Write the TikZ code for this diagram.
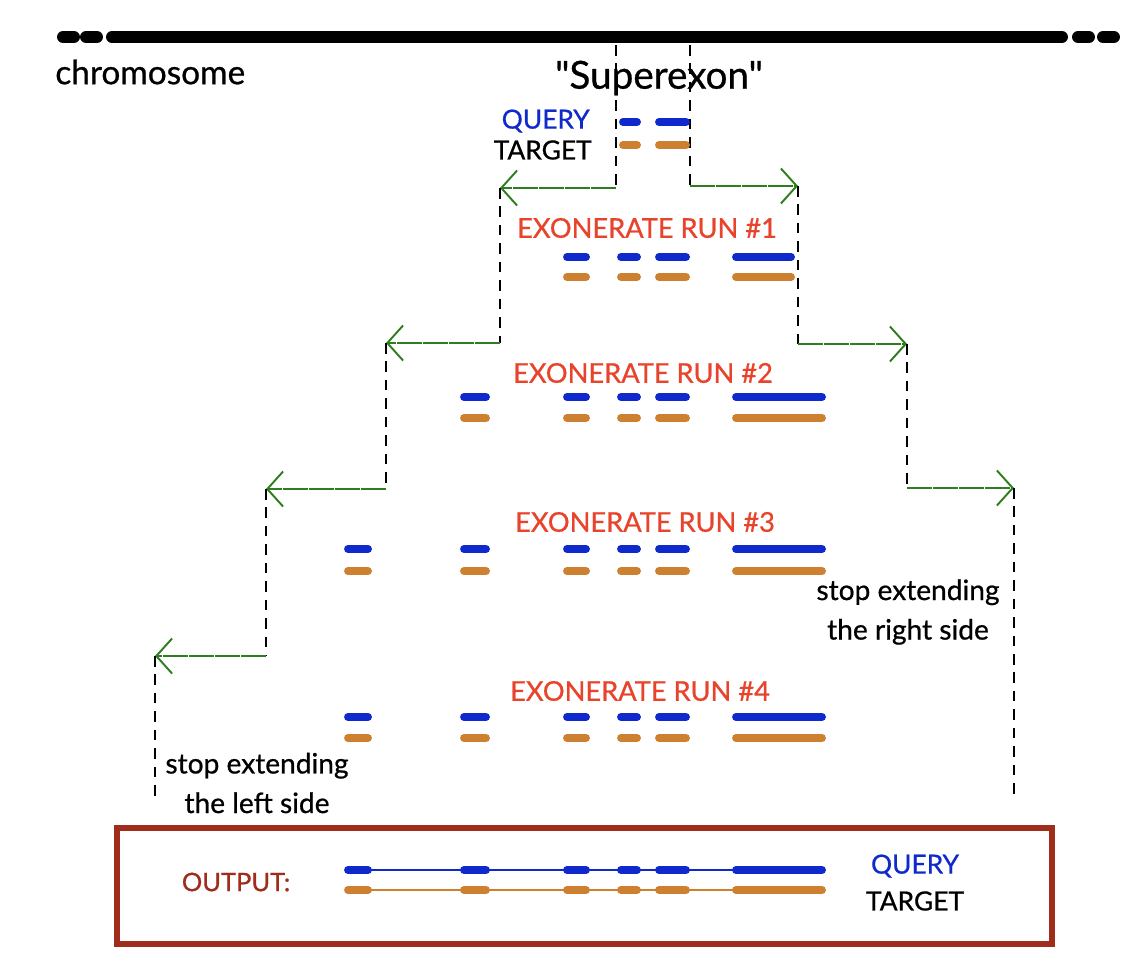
\documentclass[tikz,border=0pt]{standalone}
\usepackage{fontspec}
\setmainfont{Lato}[FakeBold=0.7]
\newfontfamily\plainquotes{Lato}[FakeBold=0.7, Ligatures=TeXOff]
\usetikzlibrary{arrows.meta}

\definecolor{qblue}{RGB}{16,41,204}
\definecolor{torange}{RGB}{205,128,48}
\definecolor{runred}{RGB}{232,67,43}
\definecolor{stepgreen}{RGB}{46,125,30}
\definecolor{outred}{RGB}{160,45,28}

\tikzset{
	qseg/.style={qblue, line width=4.5pt, line cap=round},
	tseg/.style={torange, line width=4.5pt, line cap=round},
	guide/.style={black, line width=1.3pt, dash pattern=on 6pt off 4.5pt},
	extendarrow/.style={stepgreen, line width=1.1pt, dash pattern=on 14pt off 0.8pt, -{Straight Barb[length=9pt, width=20pt]}},
	runlabel/.style={runred, font=\fontsize{15.5}{18}\selectfont},
	sidelabel/.style={align=center, font=\fontsize{16}{22.5}\selectfont},
	rowlabel/.style={font=\fontsize{15}{18}\selectfont, inner sep=0pt},
}

\begin{document}
\begin{tikzpicture}[x=0.02cm, y=-0.02cm]
		\useasboundingbox (0,0) rectangle (1146,958);
		% Paths, nodes and wires:
		\draw[line width=6.8pt, line cap=round] (63,37) -- (74,37) (86,37) -- (97,37) (112,37) -- (1062,37) (1078,37) -- (1089,37) (1103,37) -- (1114,37);
		\node[anchor=west, font=\fontsize{19}{22}\selectfont, inner sep=0pt] (chrom) at (55,72) {chromosome};
		\node[font=\plainquotes\fontsize{22}{24}\selectfont] (superexon) at (659,78) {"Superexon"};
		\node[rowlabel, qblue, anchor=east] (query) at (590,121) {QUERY};
		\node[rowlabel, anchor=east] (target) at (592,150) {TARGET};
		% step corners
		\coordinate (l0) at (616,45);  \coordinate (l1) at (616,188);
		\coordinate (l2) at (500,188); \coordinate (l3) at (500,343);
		\coordinate (l4) at (386,343); \coordinate (l5) at (386,489);
		\coordinate (l6) at (266,489); \coordinate (l7) at (266,656);
		\coordinate (l8) at (155,656); \coordinate (l9) at (155,800);
		\coordinate (r0) at (690,45);  \coordinate (r1) at (690,186);
		\coordinate (r2) at (798,186); \coordinate (r3) at (798,344);
		\coordinate (r4) at (907,344); \coordinate (r5) at (907,488);
		\coordinate (r6) at (1014,488); \coordinate (r7) at (1014,800);
		\draw[guide] (l0) -- (l1);
		\draw[extendarrow] (l1) -- (l2);
		\draw[guide] (l2) -- (l3);
		\draw[extendarrow] (l3) -- (l4);
		\draw[guide] (l4) -- (l5);
		\draw[extendarrow] (l5) -- (l6);
		\draw[guide] (l6) -- (l7);
		\draw[extendarrow] (l7) -- (l8);
		\draw[guide] (l8) -- (l9);
		\draw[guide] (r0) -- (r1);
		\draw[extendarrow] (r1) -- (r2);
		\draw[guide] (r2) -- (r3);
		\draw[extendarrow] (r3) -- (r4);
		\draw[guide] (r4) -- (r5);
		\draw[extendarrow] (r5) -- (r6);
		\draw[guide] (r6) -- (r7);
		% superexon
		\draw[qseg] (623,122) -- (637,122) (659,122) -- (686,122);
		\draw[tseg] (623,145) -- (637,145) (659,145) -- (686,145);
		% runs
		\node[runlabel] (run1) at (647,228) {EXONERATE RUN \#1};
		\draw[qseg] (567,257) -- (586,257) (621,257) -- (637,257) (659,257) -- (686,257) (736,257) -- (791,257);
		\draw[tseg] (567,277) -- (586,277) (621,277) -- (637,277) (659,277) -- (686,277) (736,277) -- (791,277);
		\node[runlabel] (run2) at (643,373) {EXONERATE RUN \#2};
		\draw[qseg] (464,397) -- (486,397) (567,397) -- (586,397) (621,397) -- (637,397) (659,397) -- (686,397) (736,397) -- (822,397);
		\draw[tseg] (464,418) -- (486,418) (567,418) -- (586,418) (621,418) -- (637,418) (659,418) -- (686,418) (736,418) -- (822,418);
		\node[runlabel] (run3) at (645,522) {EXONERATE RUN \#3};
		\draw[qseg] (348,549) -- (368,549) (464,549) -- (486,549) (567,549) -- (586,549) (621,549) -- (637,549) (659,549) -- (686,549) (736,549) -- (822,549);
		\draw[tseg] (348,571) -- (368,571) (464,571) -- (486,571) (567,571) -- (586,571) (621,571) -- (637,571) (659,571) -- (686,571) (736,571) -- (822,571);
		\node[sidelabel] (stopright) at (908,612) {stop extending\\the right side};
		\node[runlabel] (run4) at (640,691) {EXONERATE RUN \#4};
		\draw[qseg] (348,717) -- (368,717) (464,717) -- (486,717) (567,717) -- (586,717) (621,717) -- (637,717) (659,717) -- (686,717) (736,717) -- (822,717);
		\draw[tseg] (348,738) -- (368,738) (464,738) -- (486,738) (567,738) -- (586,738) (621,738) -- (637,738) (659,738) -- (686,738) (736,738) -- (822,738);
		\node[sidelabel] (stopleft) at (257,783) {stop extending\\the left side};
		% output
		\node[draw=outred, line width=3.4pt, minimum width=18.7cm, minimum height=2.32cm] (output) at (584.5,886) {};
		\node[outred, font=\fontsize{14.5}{19}\selectfont] (outlabel) at (236,882) {OUTPUT:};
		\draw[qblue, line width=0.8pt] (348,870) -- (822,870);
		\draw[torange, line width=0.8pt] (348,890) -- (822,890);
		\draw[qseg] (348,870) -- (368,870) (464,870) -- (486,870) (567,870) -- (586,870) (621,870) -- (637,870) (659,870) -- (686,870) (736,870) -- (822,870);
		\draw[tseg] (348,890) -- (368,890) (464,890) -- (486,890) (567,890) -- (586,890) (621,890) -- (637,890) (659,890) -- (686,890) (736,890) -- (822,890);
		\node[rowlabel, qblue] (outquery) at (915,866) {QUERY};
		\node[rowlabel] (outtarget) at (915,901) {TARGET};
	\end{tikzpicture}
\end{document}
